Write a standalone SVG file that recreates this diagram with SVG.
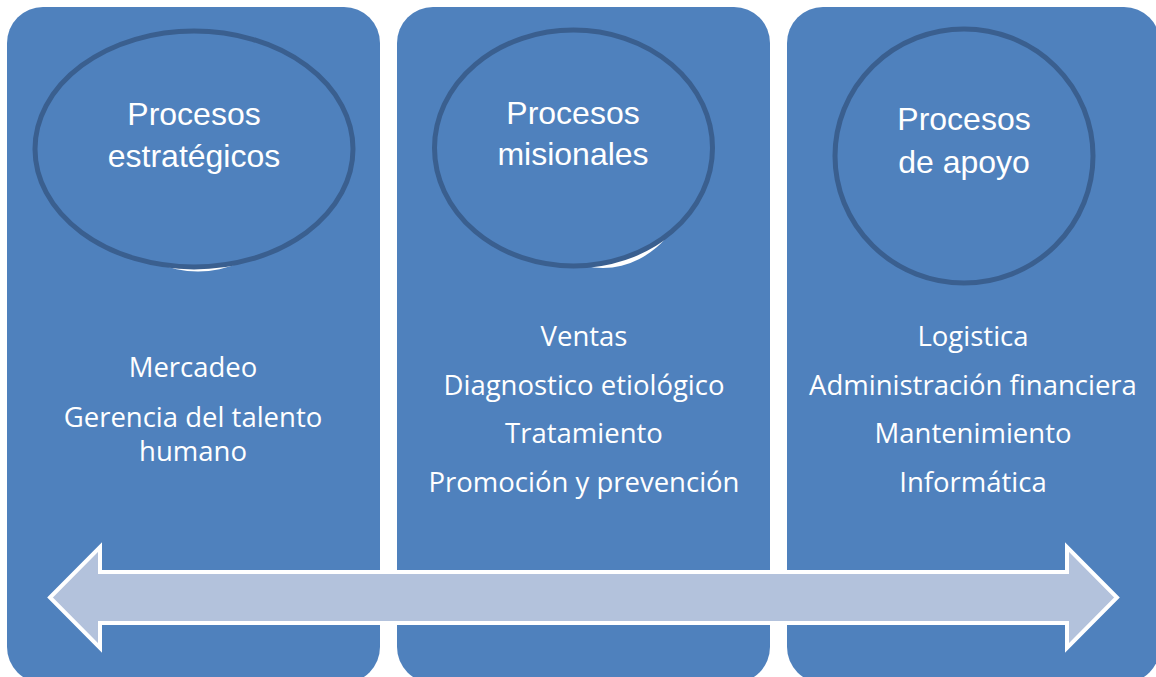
<svg xmlns="http://www.w3.org/2000/svg" width="1156" height="677" viewBox="0 0 1156 677">
<defs>
<clipPath id="lowerHalf"><rect x="0" y="240" width="1156" height="60"/></clipPath>
</defs>
<style>
.panel{fill:#4F81BD;}
.ring{fill:#4F81BD;stroke:#3A5F8F;stroke-width:5;}
.glow{fill:#FFFFFF;}
.title{font-family:"Liberation Sans",Arial,sans-serif;font-size:32px;fill:#FFFFFF;text-anchor:middle;}
.item{font-family:"Open Sans",Lato,sans-serif;font-size:27.5px;fill:#FFFFFF;text-anchor:middle;}
.arrow{fill:#B3C2DC;stroke:#FFFFFF;stroke-width:4;stroke-linejoin:miter;}
</style>
<rect width="1156" height="677" fill="#FFFFFF"/>
<g id="panel-estrategicos">
<rect class="panel" x="7" y="7" width="373" height="676" rx="36" ry="36"/>
<ellipse class="glow" cx="198" cy="152" rx="110" ry="119.5" clip-path="url(#lowerHalf)"/>
<ellipse class="ring" cx="194" cy="149" rx="159" ry="118"/>
<text class="title" x="194" y="125">Procesos</text>
<text class="title" x="194" y="167">estratégicos</text>
<text class="item" x="193" y="377">Mercadeo</text>
<text class="item" x="193" y="427">Gerencia del talento</text>
<text class="item" x="193" y="461">humano</text>
</g>
<g id="panel-misionales">
<rect class="panel" x="397" y="7" width="373" height="676" rx="36" ry="36"/>
<ellipse class="glow" cx="603" cy="149.5" rx="95" ry="118.5" clip-path="url(#lowerHalf)"/>
<ellipse class="ring" cx="573.5" cy="148" rx="139" ry="118"/>
<text class="title" x="573" y="124">Procesos</text>
<text class="title" x="573" y="165">misionales</text>
<text class="item" x="584" y="346">Ventas</text>
<text class="item" x="584" y="395">Diagnostico etiológico</text>
<text class="item" x="584" y="443">Tratamiento</text>
<text class="item" x="584" y="492">Promoción y prevención</text>
</g>
<g id="panel-apoyo">
<rect class="panel" x="787" y="7" width="373" height="676" rx="36" ry="36"/>
<ellipse class="ring" cx="964" cy="156" rx="129" ry="127"/>
<text class="title" x="964" y="130">Procesos</text>
<text class="title" x="964" y="173">de apoyo</text>
<text class="item" x="973" y="346">Logistica</text>
<text class="item" x="973" y="395">Administración financiera</text>
<text class="item" x="973" y="443">Mantenimiento</text>
<text class="item" x="973" y="492">Informática</text>
</g>
<g id="connectors">
<path class="arrow" d="M50,597.5 L100,547 L100,572 L1067,572 L1067,547 L1117,597.5 L1067,648 L1067,623 L100,623 L100,648 Z"/>
</g>
</svg>
